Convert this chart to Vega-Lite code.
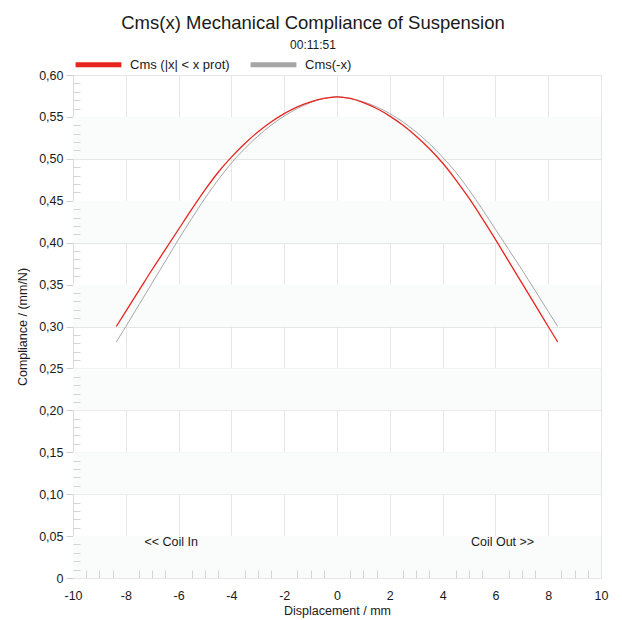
{
  "$schema": "https://vega.github.io/schema/vega-lite/v6.json",
  "width": 528,
  "height": 503,
  "autosize": {"type": "none"},
  "padding": {"left": 73, "top": 75, "right": 21, "bottom": 42},
  "background": "white",
  "config": {
    "font": "Liberation Sans",
    "view": {"stroke": "#dcdcdc", "strokeWidth": 1}
  },
  "title": {
    "text": "Cms(x) Mechanical Compliance of Suspension",
    "subtitle": "00:11:51",
    "fontSize": 18.5,
    "fontWeight": "normal",
    "color": "#1a1a1a",
    "subtitleFontSize": 12,
    "subtitleColor": "#1a1a1a",
    "subtitlePadding": 8,
    "anchor": "middle",
    "dx": -24,
    "offset": -12
  },
  "datasets": {
    "curves": [
      {"x": -8.36, "c": 0.300, "s": "Cms (|x| < x prot)"},
      {"x": -8, "c": 0.318, "s": "Cms (|x| < x prot)"},
      {"x": -7.5, "c": 0.343, "s": "Cms (|x| < x prot)"},
      {"x": -7, "c": 0.368, "s": "Cms (|x| < x prot)"},
      {"x": -6.5, "c": 0.392, "s": "Cms (|x| < x prot)"},
      {"x": -6, "c": 0.416, "s": "Cms (|x| < x prot)"},
      {"x": -5.5, "c": 0.440, "s": "Cms (|x| < x prot)"},
      {"x": -5, "c": 0.463, "s": "Cms (|x| < x prot)"},
      {"x": -4.5, "c": 0.484, "s": "Cms (|x| < x prot)"},
      {"x": -4, "c": 0.502, "s": "Cms (|x| < x prot)"},
      {"x": -3.5, "c": 0.518, "s": "Cms (|x| < x prot)"},
      {"x": -3, "c": 0.532, "s": "Cms (|x| < x prot)"},
      {"x": -2.5, "c": 0.544, "s": "Cms (|x| < x prot)"},
      {"x": -2, "c": 0.554, "s": "Cms (|x| < x prot)"},
      {"x": -1.5, "c": 0.562, "s": "Cms (|x| < x prot)"},
      {"x": -1, "c": 0.568, "s": "Cms (|x| < x prot)"},
      {"x": -0.5, "c": 0.572, "s": "Cms (|x| < x prot)"},
      {"x": 0, "c": 0.574, "s": "Cms (|x| < x prot)"},
      {"x": 0.5, "c": 0.572, "s": "Cms (|x| < x prot)"},
      {"x": 1, "c": 0.567, "s": "Cms (|x| < x prot)"},
      {"x": 1.5, "c": 0.560, "s": "Cms (|x| < x prot)"},
      {"x": 2, "c": 0.551, "s": "Cms (|x| < x prot)"},
      {"x": 2.5, "c": 0.540, "s": "Cms (|x| < x prot)"},
      {"x": 3, "c": 0.527, "s": "Cms (|x| < x prot)"},
      {"x": 3.5, "c": 0.512, "s": "Cms (|x| < x prot)"},
      {"x": 4, "c": 0.495, "s": "Cms (|x| < x prot)"},
      {"x": 4.5, "c": 0.475, "s": "Cms (|x| < x prot)"},
      {"x": 5, "c": 0.453, "s": "Cms (|x| < x prot)"},
      {"x": 5.5, "c": 0.429, "s": "Cms (|x| < x prot)"},
      {"x": 6, "c": 0.404, "s": "Cms (|x| < x prot)"},
      {"x": 6.5, "c": 0.378, "s": "Cms (|x| < x prot)"},
      {"x": 7, "c": 0.352, "s": "Cms (|x| < x prot)"},
      {"x": 7.5, "c": 0.326, "s": "Cms (|x| < x prot)"},
      {"x": 8, "c": 0.300, "s": "Cms (|x| < x prot)"},
      {"x": 8.36, "c": 0.2815, "s": "Cms (|x| < x prot)"},
      {"x": -8.36, "c": 0.2815, "s": "Cms(-x)"},
      {"x": -8, "c": 0.300, "s": "Cms(-x)"},
      {"x": -7.5, "c": 0.326, "s": "Cms(-x)"},
      {"x": -7, "c": 0.352, "s": "Cms(-x)"},
      {"x": -6.5, "c": 0.378, "s": "Cms(-x)"},
      {"x": -6, "c": 0.404, "s": "Cms(-x)"},
      {"x": -5.5, "c": 0.429, "s": "Cms(-x)"},
      {"x": -5, "c": 0.453, "s": "Cms(-x)"},
      {"x": -4.5, "c": 0.475, "s": "Cms(-x)"},
      {"x": -4, "c": 0.495, "s": "Cms(-x)"},
      {"x": -3.5, "c": 0.512, "s": "Cms(-x)"},
      {"x": -3, "c": 0.527, "s": "Cms(-x)"},
      {"x": -2.5, "c": 0.540, "s": "Cms(-x)"},
      {"x": -2, "c": 0.551, "s": "Cms(-x)"},
      {"x": -1.5, "c": 0.560, "s": "Cms(-x)"},
      {"x": -1, "c": 0.567, "s": "Cms(-x)"},
      {"x": -0.5, "c": 0.572, "s": "Cms(-x)"},
      {"x": 0, "c": 0.574, "s": "Cms(-x)"},
      {"x": 0.5, "c": 0.572, "s": "Cms(-x)"},
      {"x": 1, "c": 0.568, "s": "Cms(-x)"},
      {"x": 1.5, "c": 0.562, "s": "Cms(-x)"},
      {"x": 2, "c": 0.554, "s": "Cms(-x)"},
      {"x": 2.5, "c": 0.544, "s": "Cms(-x)"},
      {"x": 3, "c": 0.532, "s": "Cms(-x)"},
      {"x": 3.5, "c": 0.518, "s": "Cms(-x)"},
      {"x": 4, "c": 0.502, "s": "Cms(-x)"},
      {"x": 4.5, "c": 0.484, "s": "Cms(-x)"},
      {"x": 5, "c": 0.463, "s": "Cms(-x)"},
      {"x": 5.5, "c": 0.440, "s": "Cms(-x)"},
      {"x": 6, "c": 0.416, "s": "Cms(-x)"},
      {"x": 6.5, "c": 0.392, "s": "Cms(-x)"},
      {"x": 7, "c": 0.368, "s": "Cms(-x)"},
      {"x": 7.5, "c": 0.343, "s": "Cms(-x)"},
      {"x": 8, "c": 0.318, "s": "Cms(-x)"},
      {"x": 8.36, "c": 0.300, "s": "Cms(-x)"}
    ],
    "bands": [
      {"lo": 0.0, "hi": 0.05},
      {"lo": 0.1, "hi": 0.15},
      {"lo": 0.2, "hi": 0.25},
      {"lo": 0.3, "hi": 0.35},
      {"lo": 0.4, "hi": 0.45},
      {"lo": 0.5, "hi": 0.55}
    ],
    "notes": [
      {"label": "<< Coil In", "px": -6.28, "py": 0.0425},
      {"label": "Coil Out >>", "px": 6.27, "py": 0.0425}
    ]
  },
  "resolve": {"axis": {"x": "independent", "y": "independent"}},
  "layer": [
    {
      "data": {"name": "bands"},
      "mark": {"type": "rect", "fill": "#fafbfb"},
      "encoding": {
        "y": {
          "field": "lo", "type": "quantitative",
          "scale": {"domain": [0, 0.6], "nice": false},
          "axis": null
        },
        "y2": {"field": "hi"}
      }
    },
    {
      "data": {"name": "curves"},
      "transform": [{"filter": "datum.s === 'Cms(-x)'"}],
      "mark": {"type": "line", "strokeWidth": 1, "interpolate": "monotone"},
      "encoding": {
        "x": {
          "field": "x", "type": "quantitative",
          "scale": {"domain": [-10, 10], "nice": false},
          "axis": {
            "orient": "bottom",
            "values": [-10, -8, -6, -4, -2, 0, 2, 4, 6, 8, 10],
            "labelExpr": "'' + datum.value",
            "title": "Displacement / mm",
            "titleFontSize": 12.5, "titleFontWeight": "normal", "titleColor": "#1a1a1a", "titlePadding": 3,
            "labelFontSize": 12.5, "labelColor": "#1a1a1a", "labelPadding": 11, "labelFlush": false,
            "tickSize": 0, "domain": false,
            "grid": true, "gridColor": "#e6e6e6", "gridWidth": 1
          }
        },
        "y": {
          "field": "c", "type": "quantitative",
          "scale": {"domain": [0, 0.6], "nice": false},
          "axis": {
            "orient": "left",
            "values": [0, 0.05, 0.1, 0.15, 0.2, 0.25, 0.3, 0.35, 0.4, 0.45, 0.5, 0.55, 0.6],
            "labelExpr": "datum.value == 0 ? '0' : replace(format(datum.value, '.2f'), '.', ',')",
            "title": "Compliance / (mm/N)",
            "titleFontSize": 12.5, "titleFontWeight": "normal", "titleColor": "#1a1a1a", "titlePadding": 9,
            "labelFontSize": 12.5, "labelColor": "#1a1a1a", "labelPadding": 3, "labelFlush": false,
            "tickSize": 7, "tickColor": "#cfcfcf", "domain": true, "domainColor": "#dcdcdc",
            "grid": true, "gridColor": "#e6e6e6", "gridWidth": 1
          }
        },
        "color": {
          "field": "s", "type": "nominal",
          "scale": {"domain": ["Cms (|x| < x prot)", "Cms(-x)"], "range": ["#e8251f", "#a6a6a6"]},
          "legend": {
            "title": null, "orient": "none", "legendX": 0, "legendY": -36,
            "direction": "horizontal", "symbolType": "stroke", "symbolSize": 2100,
            "symbolStrokeWidth": 5, "labelFontSize": 13, "labelColor": "#1a1a1a",
            "labelOffset": 6, "columnPadding": 10
          }
        }
      }
    },
    {
      "data": {"name": "curves"},
      "transform": [{"filter": "datum.s === 'Cms (|x| < x prot)'"}],
      "mark": {"type": "line", "strokeWidth": 1.3, "interpolate": "monotone"},
      "encoding": {
        "x": {"field": "x", "type": "quantitative", "axis": null},
        "y": {"field": "c", "type": "quantitative", "axis": null},
        "color": {"field": "s", "type": "nominal"}
      }
    },
    {
      "mark": {"type": "rule", "color": "black", "strokeWidth": 3.5},
      "encoding": {
        "x": {"datum": 0, "type": "quantitative", "axis": null}
      }
    },
    {
      "data": {"name": "notes"},
      "mark": {"type": "text", "fontSize": 12.5, "color": "#1a1a1a"},
      "encoding": {
        "x": {
          "field": "px", "type": "quantitative",
          "axis": {
            "orient": "bottom", "zindex": 1,
            "values": [-9.5, -9, -8.5, -7.5, -7, -6.5, -5.5, -5, -4.5, -3.5, -3, -2.5, -1.5, -1, -0.5, 0.5, 1, 1.5, 2.5, 3, 3.5, 4.5, 5, 5.5, 6.5, 7, 7.5, 8.5, 9, 9.5],
            "labels": false, "grid": false, "domain": false, "title": null,
            "tickSize": -8, "tickColor": "#d4d4d4", "tickWidth": 1
          }
        },
        "y": {
          "field": "py", "type": "quantitative",
          "axis": {
            "orient": "left", "zindex": 1,
            "values": [0.01, 0.02, 0.03, 0.04, 0.06, 0.07, 0.08, 0.09, 0.11, 0.12, 0.13, 0.14, 0.16, 0.17, 0.18, 0.19, 0.21, 0.22, 0.23, 0.24, 0.26, 0.27, 0.28, 0.29, 0.31, 0.32, 0.33, 0.34, 0.36, 0.37, 0.38, 0.39, 0.41, 0.42, 0.43, 0.44, 0.46, 0.47, 0.48, 0.49, 0.51, 0.52, 0.53, 0.54, 0.56, 0.57, 0.58, 0.59],
            "labels": false, "grid": false, "domain": false, "title": null,
            "tickSize": -7, "tickColor": "#d4d4d4", "tickWidth": 1
          }
        },
        "text": {"field": "label"}
      }
    },
    {
      "mark": {"type": "text", "fontSize": 13, "fontWeight": "bold", "color": "#3b7db0", "text": "KLIPPEL"},
      "encoding": {
        "x": {"datum": 8.16, "type": "quantitative", "axis": null},
        "y": {"datum": 0.578, "type": "quantitative", "axis": null}
      }
    }
  ]
}
